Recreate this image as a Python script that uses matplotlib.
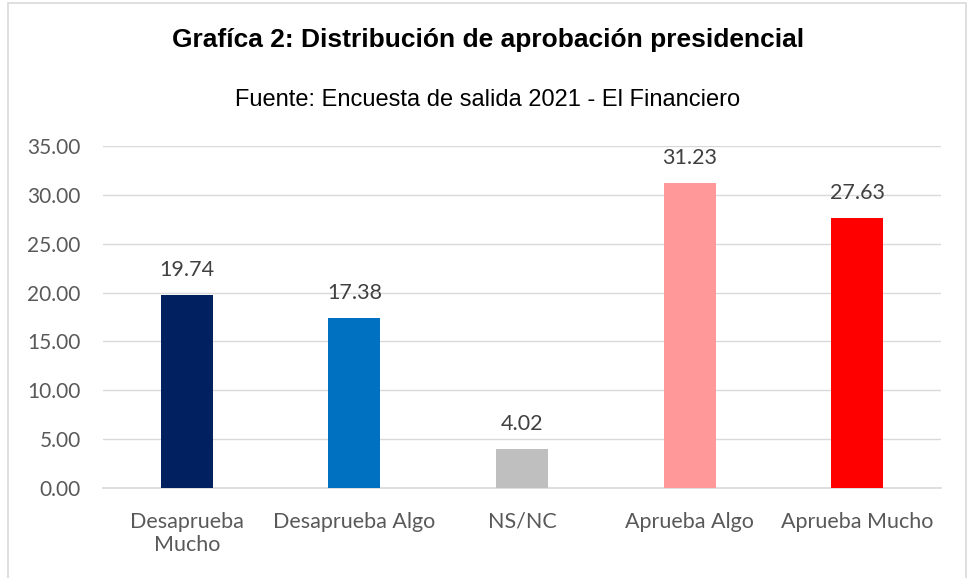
import matplotlib
matplotlib.use("Agg")
import matplotlib.pyplot as plt
from matplotlib.patches import Rectangle

categories = ["Desaprueba\nMucho", "Desaprueba Algo", "NS/NC", "Aprueba Algo", "Aprueba Mucho"]
values = [19.74, 17.38, 4.02, 31.23, 27.63]
colors = ["#002060", "#0070C0", "#BFBFBF", "#FF9999", "#FF0000"]
yticks = [0, 5, 10, 15, 20, 25, 30, 35]

W, H = 969, 578
fig = plt.figure(figsize=(W / 100, H / 100), dpi=100)
ax = fig.add_axes([103 / W, 1 - 488 / H, (941 - 103) / W, (488 - 146) / H])

x = list(range(len(categories)))
ax.bar(x, values, width=0.31, color=colors, zorder=3)
ax.set_xlim(-0.5, len(categories) - 0.5)
ax.set_ylim(0, 35)
ax.set_yticks(yticks)
ax.set_yticklabels([f"{v:.2f}" for v in yticks])
ax.set_xticks(x)
ax.set_xticklabels(categories)
ax.grid(axis="y", color="#D9D9D9", lw=1, zorder=0)
for s in ["top", "right", "left"]:
    ax.spines[s].set_visible(False)
ax.spines["bottom"].set_color("#D9D9D9")
ax.spines["bottom"].set_linewidth(1.2)
ax.tick_params(axis="y", length=0, labelcolor="#595959", labelsize=15, pad=16)
ax.tick_params(axis="x", length=0, labelcolor="#595959", labelsize=15.5, pad=17)
for lbl in ax.get_xticklabels() + ax.get_yticklabels():
    lbl.set_family("Lato")

for xi, v in zip(x, values):
    ax.annotate(f"{v:.2f}", (xi, v), xytext=(0, 18), textcoords="offset points",
                ha="center", va="center", fontsize=15.5, color="#404040", family="Lato")

fig.text(488 / W, 1 - 40 / H, "Grafíca 2: Distribución de aprobación presidencial",
         ha="center", va="center", fontsize=19, fontweight="bold",
         family="Liberation Sans", color="black")
fig.text(488 / W, 1 - 100 / H, "Fuente: Encuesta de salida 2021 - El Financiero",
         ha="center", va="center", fontsize=17, family="Liberation Sans", color="black")

fig.patches.append(Rectangle((8 / W, -0.02), (966 - 8) / W, 1 - 3 / H + 0.02,
                             transform=fig.transFigure, fill=False,
                             edgecolor="#D9D9D9", lw=1.2))

fig.savefig("out.png", dpi=100)
